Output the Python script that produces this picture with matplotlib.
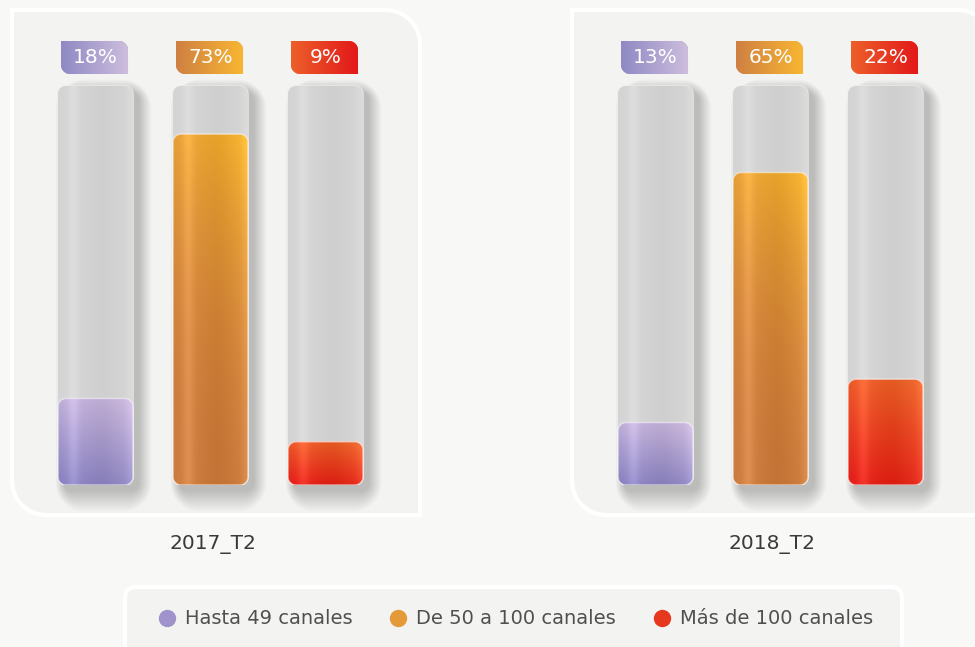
import numpy as np
import matplotlib
matplotlib.use('Agg')
import matplotlib.pyplot as plt
from matplotlib.path import Path
from matplotlib.patches import PathPatch
from matplotlib.lines import Line2D
from matplotlib.colors import to_rgb

plt.rcParams['font.family'] = ['DejaVu Sans']

# data
categories = ['Hasta 49 canales', 'De 50 a 100 canales', 'Más de 100 canales']
periods = ['2017_T2', '2018_T2']
share_2017 = [18, 73, 9]
share_2018 = [13, 65, 22]

# style
fill_cols = [('#8780bf', '#cdbade'), ('#cc7c3f', '#f7b631'), ('#e21d18', '#ee6a2e')]
fill_gamma = [1.0, 2.2, 1.0]
badge_cols = [('#8f89c3', '#cdbddd'), ('#cf8042', '#f7b632'), ('#ec5f2a', '#e3191a')]
legend_cols = ['#a093cc', '#e49a38', '#e6381e']
YMAX = 83            # value reached by the top of a track
W, H = 975, 647


def rrect(x0, y0, w, h, rx, ry, corners=(1, 1, 1, 1)):
    # corners: bottom-left, bottom-right, top-right, top-left (data orientation)
    x1, y1 = x0 + w, y0 + h
    spec = [((x0 + rx, y0 + ry), 180, (x0, y0)),
            ((x1 - rx, y0 + ry), 270, (x1, y0)),
            ((x1 - rx, y1 - ry), 0, (x1, y1)),
            ((x0 + rx, y1 - ry), 90, (x0, y1))]
    pts = []
    for on, (c, a0, p) in zip(corners, spec):
        if on:
            a = np.radians(np.linspace(a0, a0 + 90, 10))
            pts += list(zip(c[0] + rx * np.cos(a), c[1] + ry * np.sin(a)))
        else:
            pts.append(p)
    pts.append(pts[0])
    codes = [Path.MOVETO] + [Path.LINETO] * (len(pts) - 2) + [Path.CLOSEPOLY]
    return Path(pts, codes)


def gradient(ax, patch, extent, c0, c1, angle, z, stripe=0.0, gamma=1.0):
    xs = np.linspace(0, 1, 80)
    ys = np.linspace(0, 1, 80)
    X, Y = np.meshgrid(xs, ys)
    t = X * np.cos(angle) + Y * np.sin(angle)
    t = ((t - t.min()) / (t.max() - t.min())) ** gamma
    img = (1 - t)[..., None] * np.array(to_rgb(c0)) + t[..., None] * np.array(to_rgb(c1))
    if stripe:
        prof = (stripe * np.exp(-((X - 0.2) / 0.08) ** 2)
                - stripe * 0.5 * np.exp(-((X - 0.6) / 0.2) ** 2)
                + stripe * 0.8 * np.exp(-((X - 1.0) / 0.08) ** 2))
        img = np.clip(img + prof[..., None], 0, 1)
    im = ax.imshow(img, extent=extent, origin='lower', aspect='auto', zorder=z,
                   interpolation='bilinear')
    im.set_clip_path(patch)


fig = plt.figure(figsize=(W / 100, H / 100), dpi=100)
fig.patch.set_facecolor('#f8f8f6')

# background panels (pixel coordinates, y down)
bg = fig.add_axes([0, 0, 1, 1])
bg.set_xlim(0, W)
bg.set_ylim(H, 0)
bg.axis('off')
for px0, pw in [(12, 408), (572, 420)]:
    bg.add_patch(PathPatch(rrect(px0, 10, pw, 505, 34, 34, corners=(0, 1, 0, 1)),
                           facecolor='#f3f3f1', edgecolor='white', lw=3))
bg.add_patch(PathPatch(rrect(125, 587, 777, 80, 10, 10),
                       facecolor='#f3f3f1', edgecolor='white', lw=3))

bw = 0.652
px_x = 1 / 115
px_y = YMAX / 399
TOP = 445 * px_y     # axes reach up to the badges

for i, (period, vals, left) in enumerate(zip(periods, [share_2017, share_2018], [38, 598])):
    ax = fig.add_axes([left / W, (H - 485) / H, 345 / W, 445 / H])
    ax.set_facecolor('none')
    ax.axis('off')
    rx, ry = 8 * px_x, 8 * px_y
    for j, v in enumerate(vals):
        x0 = j - bw / 2
        # soft shadow, mostly to the right and below
        for k in range(14):
            g = k * 1.6
            ax.add_patch(PathPatch(
                rrect(x0 + 6 * px_x - g * px_x * 0.4, -6 * px_y - g * px_y, bw + g * px_x,
                      YMAX + 1.6 * g * px_y, rx + g * px_x, ry + g * px_y),
                facecolor='black', edgecolor='none', alpha=0.016, zorder=1, clip_on=False))
        # track
        track = PathPatch(rrect(x0, 0, bw, YMAX, rx, ry), facecolor='#d4d4d4',
                          edgecolor='#ececec', lw=1, zorder=2)
        ax.add_patch(track)
        gradient(ax, track, (x0, x0 + bw, 0, YMAX), '#d4d4d4', '#d4d4d4', 0, 2.5, stripe=0.035)
        # value
        fill = PathPatch(rrect(x0, 0, bw, v, rx, ry), facecolor=fill_cols[j][0],
                         edgecolor='none', zorder=3)
        ax.add_patch(fill)
        gradient(ax, fill, (x0, x0 + bw, 0, v), fill_cols[j][0], fill_cols[j][1],
                 np.pi / 2 - 0.25, 3.5, stripe=0.07, gamma=fill_gamma[j])
        ax.add_patch(PathPatch(rrect(x0, 0, bw, v, rx, ry), facecolor='none',
                               edgecolor=(1, 1, 1, 0.6), lw=1, zorder=4))
        # badge
        bx0, bwid = j - bw / 2 + 3 * px_x, 67 * px_x
        by0, bh = 12 * px_y + YMAX, 33 * px_y
        badge = PathPatch(rrect(bx0, by0, bwid, bh, 9 * px_x, 9 * px_y, corners=(1, 0, 1, 0)),
                          facecolor=badge_cols[j][0], edgecolor='none', zorder=3)
        ax.add_patch(badge)
        gradient(ax, badge, (bx0, bx0 + bwid, by0, by0 + bh), badge_cols[j][0],
                 badge_cols[j][1], 0, 3.5)
        ax.text(j, by0 + bh / 2, f'{v}%', ha='center', va='center', color='white',
                fontsize=14.5, zorder=5)
    ax.set_xlim(-0.5, 2.5)
    ax.set_ylim(0, TOP)
    ax.annotate(period, xy=(1, 0), xytext=(2, -60), textcoords='offset pixels',
                ha='center', va='center', fontsize=14.5, color='#3a3a3a')

handles = [Line2D([], [], marker='o', ls='none', markersize=12.5, markerfacecolor=c,
                  markeredgecolor='none') for c in legend_cols]
fig.legend(handles, categories, loc='center', bbox_to_anchor=(515 / W, (H - 619) / H),
           ncol=3, frameon=False, fontsize=14, handletextpad=0.43, columnspacing=1.85,
           labelcolor='#505050', handlelength=1.0)

fig.savefig('out.png', dpi=100, facecolor=fig.get_facecolor())
